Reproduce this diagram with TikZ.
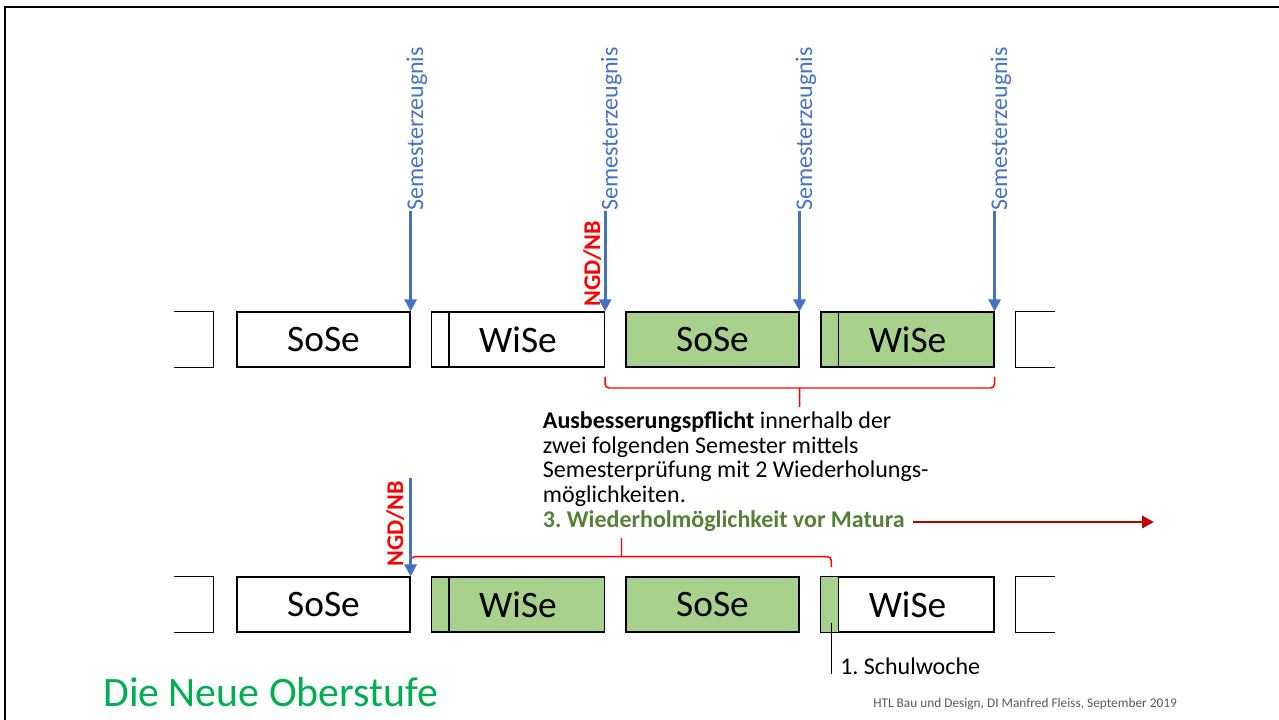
\documentclass[tikz,border=0pt]{standalone}
\usepackage{fontspec}
\setmainfont{Carlito}
\usetikzlibrary{calc,arrows.meta}
\definecolor{zblue}{HTML}{4472C4}
\definecolor{ngdred}{HTML}{FF0000}
\definecolor{matred}{HTML}{C00000}
\definecolor{semgreen}{HTML}{A9D18E}
\definecolor{txtgreen}{HTML}{538135}
\definecolor{titlegreen}{HTML}{00B050}
\definecolor{footgray}{HTML}{595959}
\frenchspacing
\begin{document}
\begin{tikzpicture}[
    x=0.75pt, y=-0.75pt,
    sem/.style={draw, line width=0.9pt, minimum width=129.75pt, minimum height=41.25pt,
      inner sep=0pt, font=\fontsize{28}{30}\selectfont},
    done/.style={sem, fill=semgreen},
    zeug/.style={zblue, line width=2.2pt, -{Triangle[length=9pt,width=9pt]}},
    zlabel/.style={zblue, rotate=90, anchor=base west, inner sep=0pt, font=\fontsize{18}{20}\selectfont},
    ngd/.style={ngdred, rotate=90, anchor=base west, inner sep=0pt, font=\fontsize{18}{20}\selectfont\bfseries},
    klammer/.style={draw=ngdred, line width=1.1pt, rounded corners=3pt},
    body/.style={anchor=base west, inner sep=0pt, font=\fontsize{18}{20}\selectfont}]
  \useasboundingbox (0,0) rectangle (1279,720);
  \draw[line width=1.9pt] (5,720) -- (5,7) -- (1279,7);

  \node[sem]  (t1) at (323.5,339.5) {SoSe};
  \node[sem]  (t2) at (518,339.5)   {WiSe};
  \node[done] (t3) at (712.5,339.5) {SoSe};
  \node[done] (t4) at (907.5,339.5) {WiSe};

  \node[sem]  (b1) at (323.5,604.5) {SoSe};
  \node[done] (b2) at (518,604.5)   {WiSe};
  \node[done] (b3) at (712.5,604.5) {SoSe};
  \node[sem]  (b4) at (907.5,604.5) {WiSe};
  \draw[line width=0.9pt, fill=semgreen] (b4.north west) rectangle ([xshift=13.5pt]b4.south west);

  \foreach \n in {t2,t4,b2}
    \draw[line width=0.9pt] ([xshift=13.5pt]\n.north west) -- ([xshift=13.5pt]\n.south west);
  \foreach \r/\s in {t1/t4,b1/b4} {
    \draw[line width=0.9pt] ([xshift=-46.5pt]\r.north west) -| ([xshift=-17.25pt]\r.south west)
      -- ([xshift=-46.5pt]\r.south west);
    \draw[line width=0.9pt] ([xshift=45pt]\s.north east) -| ([xshift=15.75pt]\s.south east)
      -- ([xshift=45pt]\s.south east);
  }

  \path[klammer] (t2.east |- 0,377) |- (t3.east |- 0,388) -| (t4.east |- 0,377)
    (t3.east |- 0,388) -- (t3.east |- 0,407);

  \coordinate (sw) at ([xshift=8.25pt]b4.south west);
  \path[klammer] (b1.east |- 0,567) |- (621.5,556.7) -| (sw |- 0,567)
    (621.5,556.7) -- (621.5,538);

  \foreach \n in {t1,t2,t3,t4} {
    \coordinate (z\n) at (\n.north east |- 0,211);
    \draw[zeug] (z\n) -- (\n.north east);
    \node[zlabel] (zl\n) at ($(z\n)+(12.5,0)$) {Semesterzeugnis};
  }
  \coordinate (zb1) at (b1.north east |- 0,478);
  \draw[zeug] (zb1) -- (b1.north east);
  \node[ngd] (ngd1) at (600,307) {NGD/NB};
  \node[ngd] (ngd2) at (403,567) {NGD/NB};

  \node[body] (l1) at (542.7,429)   {\textbf{Ausbesserungspflicht} innerhalb der};
  \node[body] (l2) at (542.7,453.5) {zwei folgenden Semester mittels};
  \node[body] (l3) at (542.7,478)   {Semesterprüfung mit 2 Wiederholungs-};
  \node[body] (l4) at (542.7,502.5) {möglichkeiten.};
  \node[body, txtgreen, font=\fontsize{18}{20}\selectfont\bfseries] (l5) at (542.7,527)
    {3. Wiederholmöglichkeit vor Matura};
  \coordinate (mat) at (1154,522);
  \draw[matred, line width=2.2pt, -{Triangle[length=9pt,width=9pt]}] ($(l5.base east)+(8,-5)$) -- (mat);

  \node[body] (woche) at (840,674) {1. Schulwoche};
  \draw[line width=1.1pt] ([yshift=7.5pt]sw) -- (sw |- woche.base);

  \node[anchor=base west, inner sep=0pt, titlegreen, font=\fontsize{31.4}{34}\selectfont]
    (titel) at (103,706) {Die Neue Oberstufe};
  \node[anchor=base west, inner sep=0pt, footgray, font=\fontsize{10}{12}\selectfont]
    (fuss) at (873,707) {HTL Bau und Design, DI Manfred Fleiss, September 2019};
\end{tikzpicture}
\end{document}
